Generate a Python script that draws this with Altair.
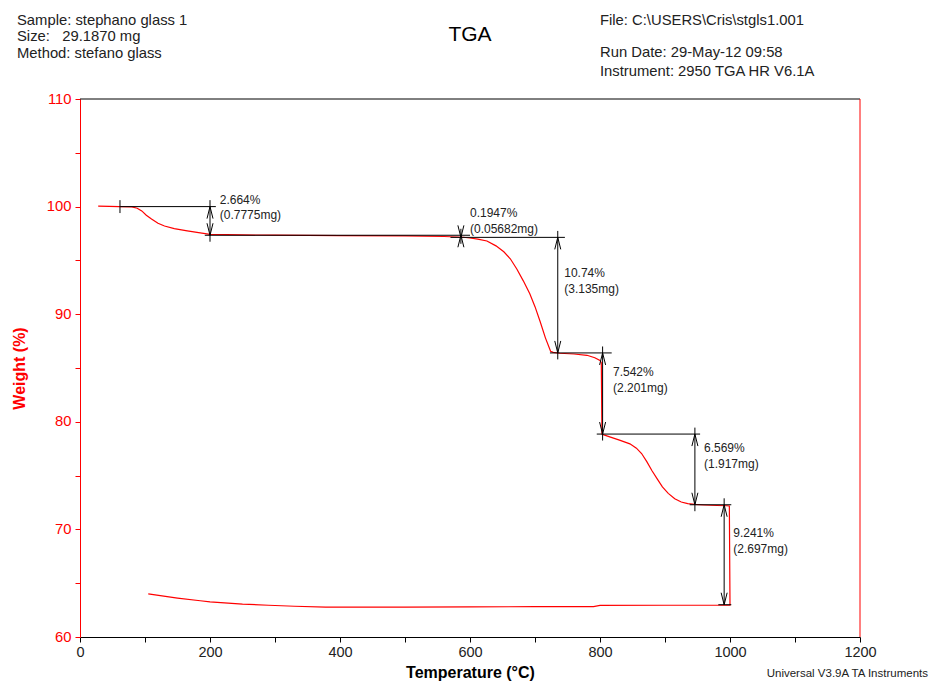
import altair as alt
import pandas as pd

# ---- TGA curve (heating 28 -> 1000 °C, then the cooling branch back to ~105 °C)
temp = [28, 45, 60, 80, 88, 95, 102, 110, 120, 130, 145, 165, 185, 200, 250, 300,
        400, 500, 560, 590, 600, 612, 626, 640, 652, 662, 672, 682, 692, 700, 708,
        716, 724, 728, 738, 760, 780, 792, 800, 802, 803, 806, 815, 830, 846, 856,
        864, 872, 880, 888, 896, 905, 915, 925, 935, 946, 960, 980, 995, 999, 1000,
        900, 800, 790, 700, 600, 500, 400, 378, 330, 290, 250, 200, 185, 150, 105]
weight = [100.05, 100.02, 100.0, 99.97, 99.85, 99.6, 99.2, 98.85, 98.45, 98.2, 97.95,
          97.74, 97.55, 97.42, 97.37, 97.34, 97.31, 97.28, 97.22, 97.15, 97.08, 96.98,
          96.8, 96.35, 95.8, 95.15, 94.2, 93.1, 91.9, 90.7, 89.3, 87.8, 86.55, 86.45,
          86.37, 86.3, 86.18, 85.95, 85.7, 85.5, 78.85, 78.78, 78.6, 78.3, 77.95, 77.55,
          77.05, 76.3, 75.45, 74.7, 73.95, 73.35, 72.85, 72.55, 72.4, 72.32, 72.27,
          72.22, 72.2, 72.18, 62.96,
          62.95, 62.93, 62.83, 62.82, 62.8, 62.78, 62.77, 62.77, 62.86, 62.95, 63.06,
          63.27, 63.37, 63.62, 64.0]

# ---- step-change analysis
step_temp = [200, 586, 735, 804, 946, 991]
step_top = [100.0, 97.336, 97.141, 86.40, 78.86, 72.29]
step_bottom = [97.336, 97.141, 86.40, 78.86, 72.29, 63.0]
step_pct = ["2.664%", "0.1947%", "10.74%", "7.542%", "6.569%", "9.241%"]
step_mg = ["(0.7775mg)", "(0.05682mg)", "(3.135mg)", "(2.201mg)", "(1.917mg)", "(2.697mg)"]
label_temp = [215, 600, 745, 820, 960, 1005]
label_weight = [100.65, 99.38, 93.8, 84.6, 77.54, 69.64]

level_weight = [100.0, 97.336, 97.141, 86.40, 78.86, 72.29, 63.0]
level_from = [62, 192, 570, 723, 795, 938, 982]
level_to = [209, 600, 746, 818, 954, 1002, 1002]

onset_temp = [61.5]
onset_top = [100.6]
onset_bottom = [99.4]

x_ticks = list(range(0, 1201, 50))
y_ticks = [60 + 2.5 * k for k in range(21)]

RED = "#ff0000"
FONT = "Liberation Sans"
INK = "#222222"

curve_df = pd.DataFrame({"T": temp, "W": weight, "i": list(range(len(temp)))})
ext = 0.6
steps_df = pd.DataFrame({
    "T": step_temp, "top": step_top, "bottom": step_bottom,
    "vtop": [t + ext for t in step_top],
    "vbot": [b - ext for b in step_bottom[:-1]] + [step_bottom[-1]],
    "pct": step_pct, "mg": step_mg, "LT": label_temp, "LW": label_weight,
})
levels_df = pd.DataFrame({"W": level_weight, "T1": level_from, "T2": level_to})
onset_df = pd.DataFrame({"T": onset_temp, "W1": onset_top, "W2": onset_bottom})
frame_df = pd.DataFrame({"x0": [0], "x1": [1200], "y0": [60], "y1": [110]})
one = pd.DataFrame({"a": [0]})

xscale = alt.Scale(domain=[0, 1200], nice=False, zero=False)
yscale = alt.Scale(domain=[60, 110], nice=False, zero=False)

x_axis = alt.Axis(
    title="Temperature (°C)", values=x_ticks, format="d",
    labelExpr="datum.value % 200 == 0 ? datum.label : ''",
    grid=False, domainColor="black", tickColor="black", tickSize=5,
    labelFont=FONT, labelFontSize=14.5, labelColor=INK, labelPadding=3,
    titleFont=FONT, titleFontSize=16, titleFontWeight="bold", titleColor="black",
    titlePadding=6, labelFlush=False, labelOverlap=False,
)
y_axis = alt.Axis(
    title="Weight (%)", values=y_ticks, format="d",
    labelExpr="datum.value % 10 == 0 ? datum.label : ''",
    grid=False, domainColor=RED, tickColor=RED, tickSize=5,
    labelFont=FONT, labelFontSize=14.8, labelColor=RED, labelPadding=4,
    titleFont=FONT, titleFontSize=16, titleFontWeight="bold", titleColor=RED,
    titlePadding=19, labelFlush=False, labelOverlap=False,
)

# frame: black top edge, red right edge
top_edge = alt.Chart(frame_df).mark_rule(color="black", strokeWidth=1).encode(
    x=alt.X("x0:Q", scale=xscale, axis=x_axis), x2="x1:Q",
    y=alt.Y("y1:Q", scale=yscale, axis=y_axis))
right_edge = alt.Chart(frame_df).mark_rule(color=RED, strokeWidth=1).encode(
    x=alt.X("x1:Q", scale=xscale), y=alt.Y("y0:Q", scale=yscale), y2="y1:Q")

curve = alt.Chart(curve_df).mark_line(color=RED, strokeWidth=1.2, interpolate="linear").encode(
    x=alt.X("T:Q", scale=xscale), y=alt.Y("W:Q", scale=yscale), order="i:Q")

levels = alt.Chart(levels_df).mark_rule(color="black", strokeWidth=1).encode(
    x=alt.X("T1:Q", scale=xscale), x2="T2:Q", y=alt.Y("W:Q", scale=yscale))
onset = alt.Chart(onset_df).mark_rule(color="black", strokeWidth=1).encode(
    x=alt.X("T:Q", scale=xscale), y=alt.Y("W1:Q", scale=yscale), y2="W2:Q")
verticals = alt.Chart(steps_df).mark_rule(color="black", strokeWidth=1).encode(
    x=alt.X("T:Q", scale=xscale), y=alt.Y("vtop:Q", scale=yscale), y2="vbot:Q")

up_head = alt.Chart(steps_df).mark_point(
    shape="M-0.25,1L0,0L0.25,1", size=576, filled=False, color="black",
    strokeWidth=1, opacity=1).encode(
    x=alt.X("T:Q", scale=xscale), y=alt.Y("top:Q", scale=yscale))
down_head = alt.Chart(steps_df).mark_point(
    shape="M-0.25,-1L0,0L0.25,-1", size=576, filled=False, color="black",
    strokeWidth=1, opacity=1).encode(
    x=alt.X("T:Q", scale=xscale), y=alt.Y("bottom:Q", scale=yscale))

pct_text = alt.Chart(steps_df).mark_text(
    align="left", baseline="middle", font=FONT, fontSize=12, color=INK).encode(
    x=alt.X("LT:Q", scale=xscale), y=alt.Y("LW:Q", scale=yscale), text="pct:N")
mg_text = alt.Chart(steps_df).mark_text(
    align="left", baseline="middle", font=FONT, fontSize=12, color=INK, dy=15.5).encode(
    x=alt.X("LT:Q", scale=xscale), y=alt.Y("LW:Q", scale=yscale), text="mg:N")

left_header = alt.Chart(one).mark_text(
    align="left", baseline="middle", font=FONT, fontSize=14.8, color=INK,
    lineBreak="\n", lineHeight=16.7).encode(
    x=alt.value(-63), y=alt.value(-78.3),
    text=alt.value("Sample: stephano glass 1\nSize:\u00a0\u00a0\u00a029.1870 mg\nMethod: stefano glass"))
title_text = alt.Chart(one).mark_text(
    align="center", baseline="middle", font=FONT, fontSize=21, color="black").encode(
    x=alt.value(390), y=alt.value(-64), text=alt.value("TGA"))
file_text = alt.Chart(one).mark_text(
    align="left", baseline="middle", font=FONT, fontSize=14.8, color=INK).encode(
    x=alt.value(520), y=alt.value(-78.3), text=alt.value("File: C:\\USERS\\Cris\\stgls1.001"))
run_text = alt.Chart(one).mark_text(
    align="left", baseline="middle", font=FONT, fontSize=14.8, color=INK,
    lineBreak="\n", lineHeight=18.4).encode(
    x=alt.value(520), y=alt.value(-45.7),
    text=alt.value("Run Date: 29-May-12 09:58\nInstrument: 2950 TGA HR V6.1A"))
footer = alt.Chart(one).mark_text(
    align="right", baseline="middle", font=FONT, fontSize=11.5, color=INK).encode(
    x=alt.value(848), y=alt.value(575), text=alt.value("Universal V3.9A TA Instruments"))

chart = alt.layer(
    top_edge, right_edge, curve, levels, onset, verticals, up_head, down_head,
    pct_text, mg_text, left_header, title_text, file_text, run_text, footer,
).properties(
    width=780, height=538,
    padding={"left": 72, "top": 91, "right": 70, "bottom": 46},
    autosize=alt.AutoSizeParams(type="none"),
    background="white",
).configure_view(stroke=None)

chart.save("out.html", embed_options={"renderer": "svg", "actions": False})
